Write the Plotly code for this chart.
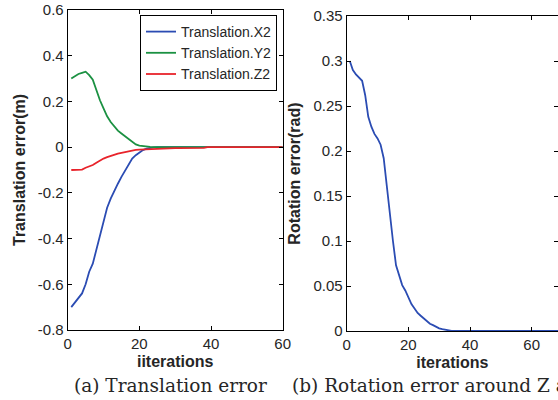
import plotly.graph_objects as go

# ---------------- data ----------------
iters_t = list(range(1, 61))
trans_x2 = [-0.70, -0.68, -0.66, -0.64, -0.60, -0.545, -0.51, -0.45, -0.39, -0.33,
            -0.265, -0.225, -0.19, -0.16, -0.13, -0.105, -0.075, -0.05, -0.035, -0.022,
            -0.013, -0.007, -0.003, -0.001] + [0.0] * 36
trans_y2 = [0.30, 0.31, 0.32, 0.325, 0.33, 0.315, 0.295, 0.25, 0.205, 0.17,
            0.135, 0.11, 0.09, 0.072, 0.06, 0.047, 0.035, 0.022, 0.012, 0.007,
            0.004, 0.002, 0.001] + [0.0] * 37
trans_z2 = [-0.10, -0.10, -0.10, -0.098, -0.09, -0.085, -0.078, -0.068, -0.058, -0.05,
            -0.044, -0.038, -0.033, -0.028, -0.025, -0.022, -0.016, -0.014, -0.012, -0.011,
            -0.010, -0.009, -0.008, -0.007, -0.006, -0.005, -0.005, -0.004, -0.004, -0.004,
            -0.004, -0.004, -0.004, -0.004, -0.004, -0.004, -0.004, -0.003] + [0.0] * 22

iters_r = list(range(1, 71))
rot_err = [0.300, 0.290, 0.285, 0.281, 0.278, 0.262, 0.238, 0.227, 0.219, 0.214,
           0.207, 0.192, 0.160, 0.127, 0.100, 0.073, 0.062, 0.051, 0.045, 0.037,
           0.030, 0.025, 0.020, 0.017, 0.014, 0.011, 0.008, 0.0065, 0.0045, 0.003,
           0.002, 0.0012, 0.0005] + [0.0002] * 37

left_yticks = [-0.8, -0.6, -0.4, -0.2, 0, 0.2, 0.4, 0.6]
left_yticklabels = ["-0.8", "-0.6", "-0.4", "-0.2", "0", "0.2", "0.4", "0.6"]
right_yticks = [0, 0.05, 0.1, 0.15, 0.2, 0.25, 0.3, 0.35]
right_yticklabels = ["0", "0.05", "0.1", "0.15", "0.2", "0.25", "0.3", "0.35"]
xticks = [0, 20, 40, 60]

W, H = 558, 400
BLUE = "#2b4cb3"
GREEN = "#1b9142"
RED = "#e8232b"
TXT = "#262626"
SANS = "Liberation Sans, Arial"

fig = go.Figure()
fig.add_trace(go.Scatter(x=iters_t, y=trans_x2, mode="lines", name="Translation.X2",
                         line=dict(color=BLUE, width=1.8), xaxis="x", yaxis="y"))
fig.add_trace(go.Scatter(x=iters_t, y=trans_y2, mode="lines", name="Translation.Y2",
                         line=dict(color=GREEN, width=1.8), xaxis="x", yaxis="y"))
fig.add_trace(go.Scatter(x=iters_t, y=trans_z2, mode="lines", name="Translation.Z2",
                         line=dict(color=RED, width=1.8), xaxis="x", yaxis="y"))
fig.add_trace(go.Scatter(x=iters_r, y=rot_err, mode="lines", name="Rotation",
                         line=dict(color=BLUE, width=1.8), xaxis="x2", yaxis="y2",
                         showlegend=False))

axis_common = dict(showgrid=False, zeroline=False, showline=True, linecolor="black",
                   linewidth=1, mirror="ticks", ticks="inside", ticklen=4,
                   tickcolor="black", automargin=False,
                   tickfont=dict(family=SANS, size=15, color=TXT))
title_font = dict(family=SANS, size=16, color=TXT)

fig.update_layout(
    width=W, height=H,
    margin=dict(l=0, r=0, t=0, b=0),
    paper_bgcolor="white", plot_bgcolor="white",
    xaxis=dict(domain=[67.7 / W, 282.7 / W], range=[0, 60], tickvals=xticks,
               title=dict(text="<b>iiterations</b>", standoff=4, font=title_font),
               anchor="y", **axis_common),
    yaxis=dict(domain=[(H - 330) / H, (H - 10) / H], range=[-0.8, 0.6],
               tickvals=left_yticks, ticktext=left_yticklabels,
               title=dict(text="<b>Translation error(m)</b>", standoff=8, font=title_font),
               anchor="x", **axis_common),
    xaxis2=dict(domain=[346.7 / W, 1.0], range=[0, (W - 346.7) / 3.083], tickvals=xticks,
                title=dict(text="<b>iterations</b>", standoff=4, font=title_font),
                anchor="y2", **axis_common),
    yaxis2=dict(domain=[(H - 331) / H, (H - 16) / H], range=[0, 0.35],
                tickvals=right_yticks, ticktext=right_yticklabels,
                title=dict(text="<b>Rotation error(rad)</b>", standoff=8, font=title_font),
                anchor="x2", **axis_common),
    legend=dict(x=277 / W, y=(H - 15) / H, xanchor="right", yanchor="top",
                bgcolor="white", bordercolor="black", borderwidth=1,
                font=dict(family=SANS, size=14, color=TXT),
                tracegroupgap=0, itemwidth=30),
    showlegend=True,
    annotations=[
        dict(text="(a) Translation error", x=72 / W, y=(H - 385) / H, xref="paper", yref="paper",
             xanchor="left", yanchor="middle", showarrow=False,
             font=dict(family="DejaVu Serif, serif", size=18.5, color=TXT)),
        dict(text="(b) Rotation error around Z axis", x=290 / W, y=(H - 385) / H,
             xref="paper", yref="paper", xanchor="left", yanchor="middle", showarrow=False,
             font=dict(family="DejaVu Serif, serif", size=18.5, color=TXT)),
    ],
)

fig.write_html("out.html")
